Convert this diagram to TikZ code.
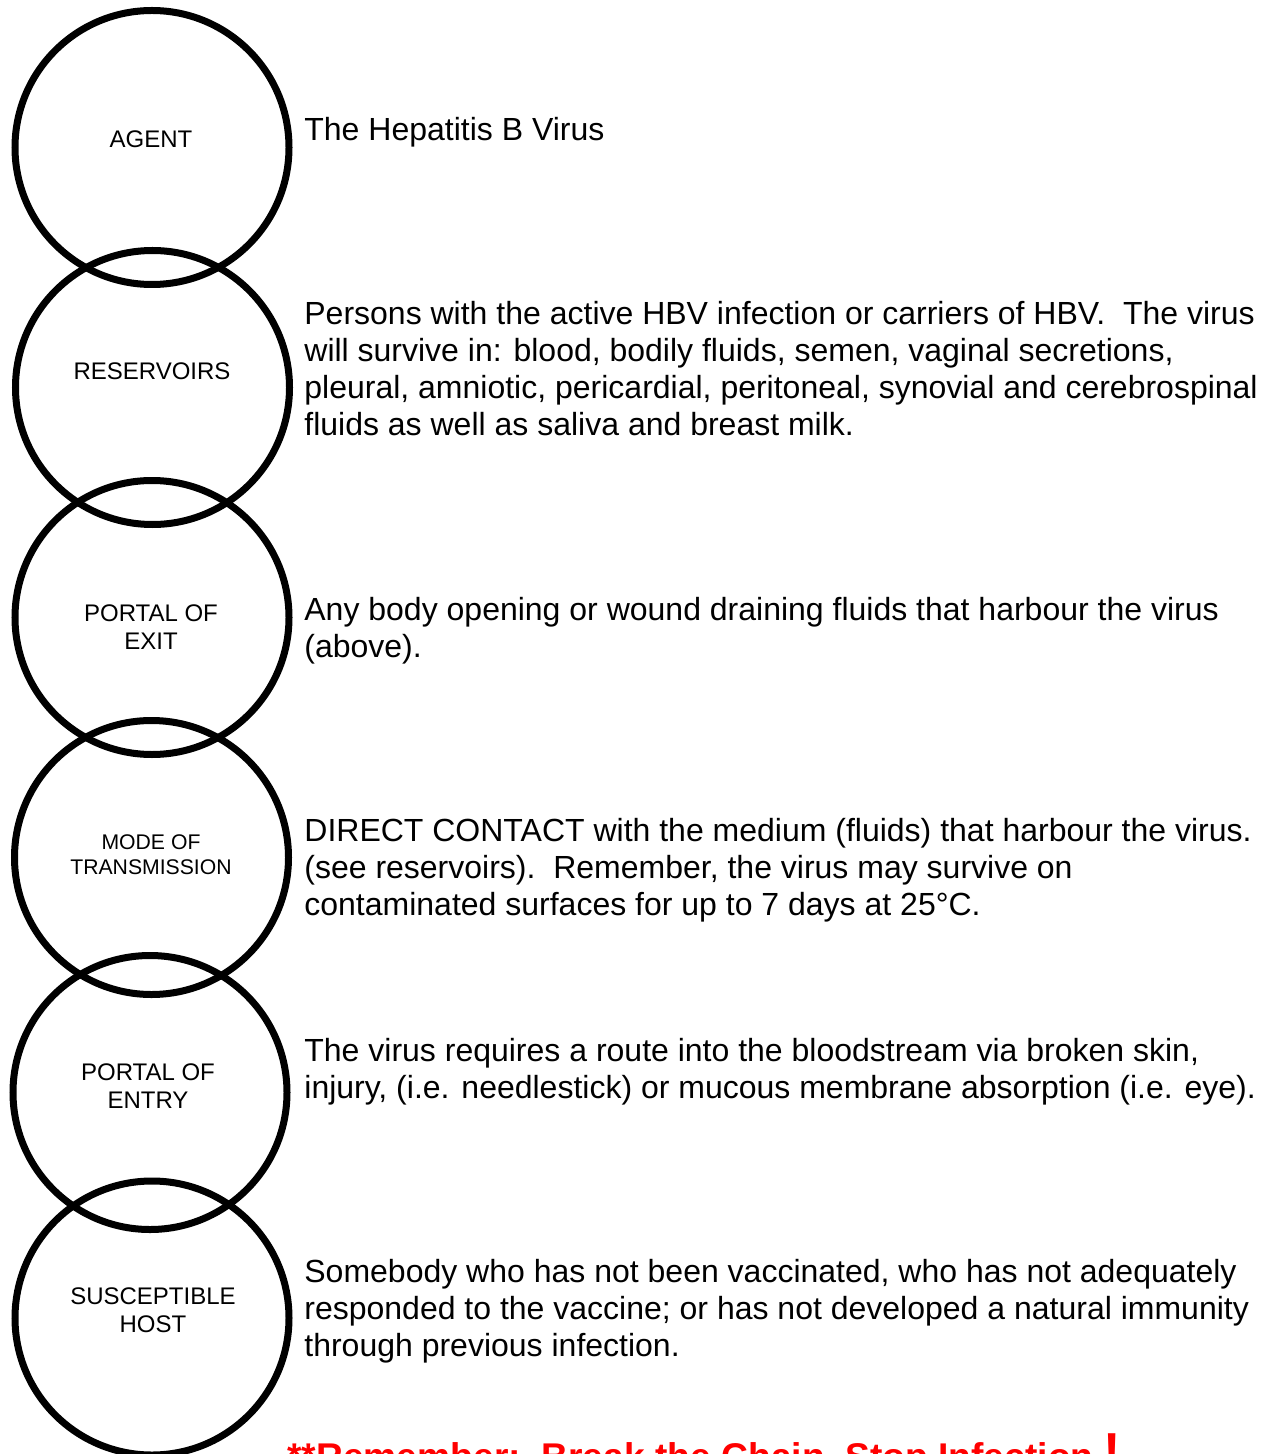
\documentclass[tikz,border=0pt]{standalone}
\usepackage{fontspec}
\setmainfont{Liberation Sans}
\begin{document}
\begin{tikzpicture}[x=0.5pt,y=-0.5pt,
  ring/.style={circle,draw=black,line width=3.5pt,minimum size=137pt,inner sep=0pt},
  ringlabel/.style={align=center,inner sep=0pt,font=\fontsize{12}{14}\selectfont},
  smalllabel/.style={align=center,inner sep=0pt,font=\fontsize{10.6}{12.5}\selectfont},
  % multi-line paragraphs sit on the baseline of their last line
  para/.style={align=left,anchor=base west,inner sep=0pt,font=\fontsize{16}{18.5}\selectfont},
  motto/.style={anchor=base west,inner sep=0pt,text=red,font=\bfseries\fontsize{18.6}{20}\selectfont}]
\useasboundingbox (0,0) rectangle (1268,1454);
\clip (0,0) rectangle (1268,1454);
\fill[white] (0,0) rectangle (1268,1454);

% chain of links
\node[ring] (c1) at (152,147.5) {};
\node[ring] (c2) at (152.5,387.5) {};
\node[ring] (c3) at (152,617.5) {};
\node[ring] (c4) at (151.5,857.5) {};
\node[ring] (c5) at (150,1092.5) {};
\node[ring] (c6) at (152,1318) {};

% link names
\node[ringlabel] (l1) at (151,139) {AGENT};
\node[ringlabel] (l2) at (152,371) {RESERVOIRS};
\node[ringlabel] (l3) at (151,627) {PORTAL OF\\EXIT};
\node[smalllabel] (l4) at (151,855) {MODE OF\\TRANSMISSION};
\node[ringlabel] (l5) at (148,1086) {PORTAL OF\\ENTRY};
\node[ringlabel] (l6) at (153,1310) {SUSCEPTIBLE\\HOST};

% descriptions
\node[para] (t1) at (304,141) {The Hepatitis B Virus};
\node[para] (t2) at (304,436) {Persons with the active HBV infection or carriers of HBV.\ \ The virus\\
will survive in: blood, bodily fluids, semen, vaginal secretions,\\
pleural, amniotic, pericardial, peritoneal, synovial and cerebrospinal\\
fluids as well as saliva and breast milk.};
\node[para] (t3) at (304,657) {Any body opening or wound draining fluids that harbour the virus\\
(above).};
\node[para] (t4) at (304,915) {DIRECT CONTACT with the medium (fluids) that harbour the virus.\\
(see reservoirs).\ \ Remember, the virus may survive on\\
contaminated surfaces for up to 7 days at 25°C.};
\node[para] (t5) at (304,1098) {The virus requires a route into the bloodstream via broken skin,\\
injury, (i.e. needlestick) or mucous membrane absorption (i.e. eye).};
\node[para] (t6) at (304,1356) {Somebody who has not been vaccinated, who has not adequately\\
responded to the vaccine; or has not developed a natural immunity\\
through previous infection.};

% closing reminder, running off the foot of the page
\node[motto] (m) at (287,1469) {**Remember:\ \ Break the Chain, Stop Infection {\fontsize{26}{26}\selectfont !}};
\end{tikzpicture}
\end{document}
